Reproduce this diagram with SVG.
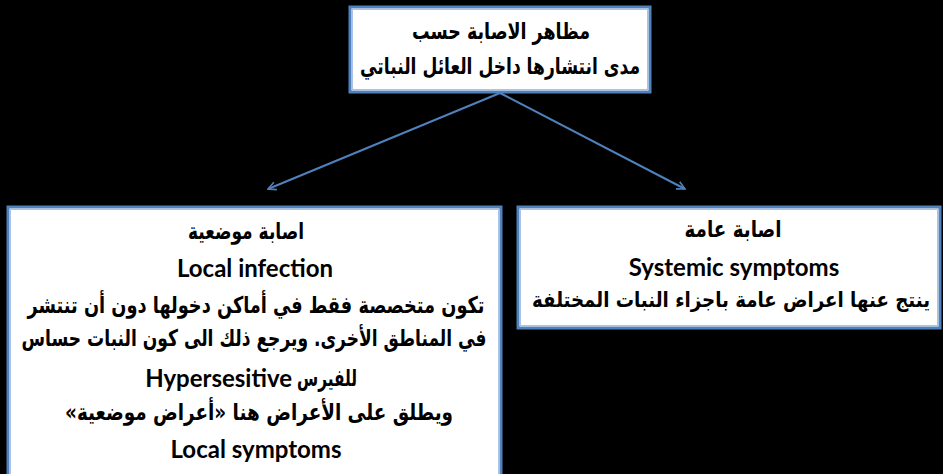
<svg xmlns="http://www.w3.org/2000/svg" width="943" height="474" viewBox="0 0 943 474">
<style>
.box{fill:#ffffff;stroke:#4f81bd;stroke-width:3}
.inner{fill:none;stroke:#a9c4e8;stroke-width:1}
.ar{font-family:"DejaVu Sans","Noto Sans",sans-serif;font-weight:bold;font-size:23px;fill:#000;text-anchor:middle;direction:rtl}
.en{font-family:Lato,"Open Sans",sans-serif;font-weight:bold;font-size:24px;fill:#000;text-anchor:middle}
.conn{stroke:#4f81bd;stroke-width:2;fill:none}
</style>
<defs>
<marker id="arr" viewBox="0 0 10 10" refX="9" refY="5" markerWidth="10" markerHeight="10" markerUnits="userSpaceOnUse" orient="auto">
<path d="M1,1 L9,5 L1,9" fill="none" stroke="#4f81bd" stroke-width="1.6"/>
</marker>
</defs>
<rect width="943" height="474" fill="#000"/>
<g id="connectors">
<line class="conn" x1="500" y1="93" x2="268" y2="189" marker-end="url(#arr)"/>
<line class="conn" x1="500" y1="93" x2="685" y2="189" marker-end="url(#arr)"/>
</g>
<g id="node-top">
<rect class="box" x="350" y="7" width="300" height="85"/>
<rect class="inner" x="352.5" y="9.5" width="295" height="80"/>
<text class="ar" x="501" y="39" textLength="178" lengthAdjust="spacingAndGlyphs">مظاهر الاصابة حسب</text>
<text class="ar" x="500" y="74" textLength="280" lengthAdjust="spacingAndGlyphs">مدى انتشارها داخل العائل النباتي</text>
</g>
<g id="node-local">
<rect class="box" x="8" y="207" width="493" height="275"/>
<rect class="inner" x="10.5" y="209.5" width="488" height="275"/>
<text class="ar" x="246" y="239" textLength="116" lengthAdjust="spacingAndGlyphs">اصابة موضعية</text>
<text class="en" x="255" y="277">Local infection</text>
<text class="ar" x="256" y="313" textLength="457" lengthAdjust="spacingAndGlyphs">تكون متخصصة فقط في أماكن دخولها دون أن تنتشر</text>
<text class="ar" x="254" y="346" textLength="465" lengthAdjust="spacingAndGlyphs">في المناطق الأخرى. ويرجع ذلك الى كون النبات حساس</text>
<text class="ar" x="327" y="386" textLength="60" lengthAdjust="spacingAndGlyphs">للفيرس</text>
<text class="en" x="292" y="387" style="text-anchor:end">Hypersesitive</text>
<text class="ar" x="259" y="420" textLength="388" lengthAdjust="spacingAndGlyphs">ويطلق على الأعراض هنا «أعراض موضعية»</text>
<text class="en" x="256" y="458">Local symptoms</text>
</g>
<g id="node-systemic">
<rect class="box" x="518" y="207" width="422" height="121"/>
<rect class="inner" x="520.5" y="209.5" width="417" height="116"/>
<text class="ar" x="733" y="237" textLength="97" lengthAdjust="spacingAndGlyphs">اصابة عامة</text>
<text class="en" x="734" y="276">Systemic symptoms</text>
<text class="ar" x="731" y="307" style="font-size:21px" textLength="398" lengthAdjust="spacingAndGlyphs">ينتج عنها اعراض عامة باجزاء النبات المختلفة</text>
</g>
</svg>
